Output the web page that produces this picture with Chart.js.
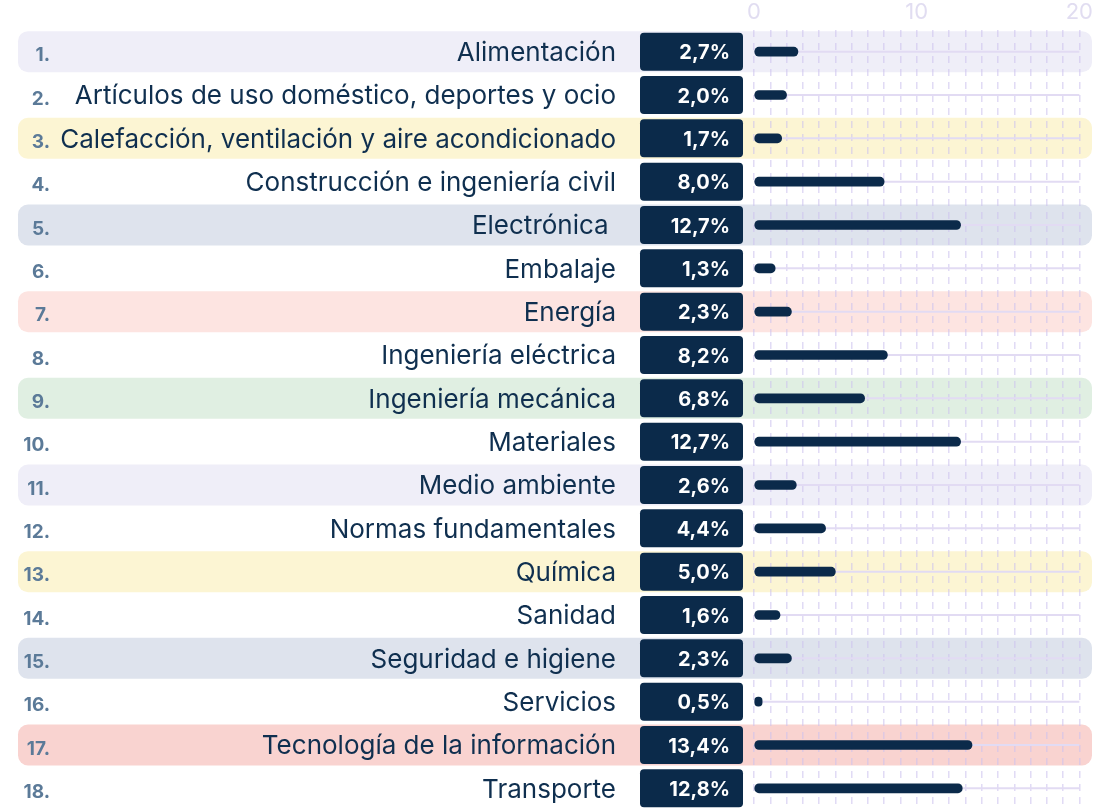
<!DOCTYPE html>
<html>
<head>
<meta charset="utf-8">
<script src="https://cdn.jsdelivr.net/npm/chart.js@4"></script>
<style>
  body { margin: 0; background: #fff; }
  #wrap { width: 1097px; height: 812px; position: relative; }
</style>
</head>
<body>
<div id="wrap"><canvas id="SectorShareChart"></canvas></div>
<script>
const categories = [
    'Alimentación',
    'Artículos de uso doméstico, deportes y ocio',
    'Calefacción, ventilación y aire acondicionado',
    'Construcción e ingeniería civil',
    'Electrónica ',
    'Embalaje',
    'Energía',
    'Ingeniería eléctrica',
    'Ingeniería mecánica',
    'Materiales',
    'Medio ambiente',
    'Normas fundamentales',
    'Química',
    'Sanidad',
    'Seguridad e higiene',
    'Servicios',
    'Tecnología de la información',
    'Transporte'
];
const shares = [2.7, 2.0, 1.7, 8.0, 12.7, 1.3, 2.3, 8.2, 6.8, 12.7, 2.6, 4.4, 5.0, 1.6, 2.3, 0.5, 13.4, 12.8];
const axisLabels = [0, 10, 20];

// row highlight colours (null = no band)
const bandColors = [
    '#efeef8', null, '#fcf5d3', null, '#dee3ed', null, '#fde4e1', null, '#e0efe2',
    null, '#efeef8', null, '#fcf5d3', null, '#dee3ed', null, '#f9d3d0', null
];

const navy = '#0b2a4a';

const rowPlugin = {
    id: 'rows',
    beforeDraw(chart) {
        const { ctx, scales: { y } } = chart;
        ctx.save();
        categories.forEach((name, i) => {
            if (!bandColors[i]) return;
            const cy = y.getPixelForValue(i);
            ctx.fillStyle = bandColors[i];
            ctx.beginPath();
            ctx.roundRect(18, cy - 20.5, 1074, 41, 10);
            ctx.fill();
        });
        ctx.restore();
    },
    beforeDatasetsDraw(chart) {
        const { ctx, scales: { x, y } } = chart;
        ctx.save();
        ctx.strokeStyle = '#e2dbf3';
        ctx.lineWidth = 2;
        categories.forEach((name, i) => {
            const cy = y.getPixelForValue(i);
            ctx.beginPath();
            ctx.moveTo(x.getPixelForValue(0), cy);
            ctx.lineTo(x.getPixelForValue(x.max), cy);
            ctx.stroke();
        });
        ctx.restore();
    },
    afterDraw(chart) {
        const { ctx, scales: { x, y } } = chart;
        ctx.save();
        categories.forEach((name, i) => {
            const cy = y.getPixelForValue(i);
            // number
            ctx.fillStyle = '#5b7a98';
            ctx.font = '700 19px Inter';
            ctx.textAlign = 'right';
            ctx.textBaseline = 'middle';
            ctx.fillText((i + 1) + '.', 50, cy + 4);
            // name
            ctx.fillStyle = '#0f2f4f';
            ctx.font = '400 26px Inter';
            ctx.fillText(name, 616, cy + 1.5);
            // value box
            const right = x.left - 11;
            ctx.fillStyle = navy;
            ctx.beginPath();
            ctx.roundRect(right - 103, cy - 19, 103, 38, 4);
            ctx.fill();
            ctx.fillStyle = '#ffffff';
            ctx.font = '700 20px Inter';
            ctx.fillText(shares[i].toFixed(1).replace('.', ',') + '%', right - 13, cy + 1.5);
        });
        ctx.restore();
    }
};

const context = document.getElementById('SectorShareChart').getContext('2d');
new Chart(context, {
    type: 'bar',
    data: {
        labels: categories,
        datasets: [{
            label: 'Share',
            data: shares,
            backgroundColor: navy,
            barThickness: 9,
            borderRadius: 4.5,
            borderSkipped: false
        }]
    },
    plugins: [rowPlugin],
    options: {
        indexAxis: 'y',
        responsive: true,
        maintainAspectRatio: false,
        animation: false,
        layout: { padding: { right: 17, bottom: 2 } },
        plugins: {
            legend: { display: false },
            tooltip: { enabled: false }
        },
        scales: {
            x: {
                position: 'top',
                min: 0,
                max: 20,
                afterFit: scale => { scale.height = 30; },
                ticks: {
                    stepSize: 1,
                    autoSkip: false,
                    maxRotation: 0,
                    padding: 4,
                    color: '#e1ddf1',
                    font: { family: 'Inter', size: 22 },
                    callback: v => axisLabels.includes(v) ? v : ''
                },
                grid: {
                    color: 'rgba(205,195,238,0.6)',
                    lineWidth: 1.5,
                    drawTicks: false
                },
                border: { display: false, dash: [7, 6] }
            },
            y: {
                afterFit: scale => { scale.width = 754; },
                ticks: { display: false },
                grid: { display: false },
                border: { display: false }
            }
        }
    }
});
</script>
</body>
</html>
